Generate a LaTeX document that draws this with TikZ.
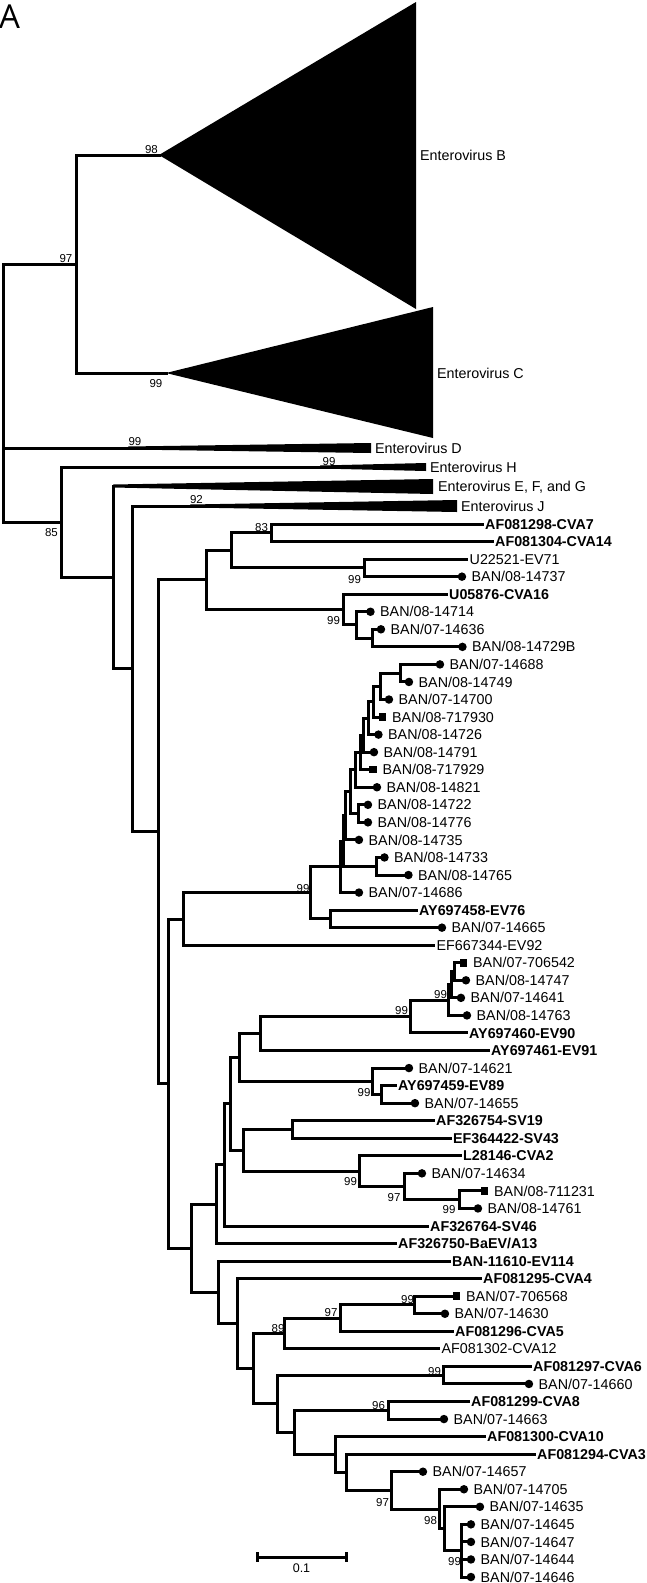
\documentclass[tikz,border=0pt]{standalone}
\usepackage{fontspec}
\setmainfont{Liberation Sans}
\newfontfamily\panelfont{Open Sans}
\tikzset{
  br/.style={line width=3pt, line join=miter, line cap=rect},
  lab/.style={font=\fontsize{14.3}{16}\selectfont, anchor=base west, inner sep=0pt, yshift=-5.1pt},
  blab/.style={font=\fontsize{14.3}{16}\selectfont\bfseries, anchor=base west, inner sep=0pt, yshift=-5.1pt},
  bs/.style={font=\fontsize{11.5}{12}\selectfont, inner sep=0pt},
  dotmark/.style={circle, fill=black, minimum size=8.5pt, inner sep=0pt, anchor=west},
  sqmark/.style={rectangle, fill=black, minimum size=7.5pt, inner sep=0pt, anchor=west},
}
\newcommand\Lc[4]{\coordinate (#1) at (#3,{524+(#2-1)*17.55});
  \node[dotmark] (#1m) at (#1) {};
  \node[lab] (#1l) at ([xshift=14pt]#1) {#4};}
\newcommand\Ls[4]{\coordinate (#1) at (#3,{524+(#2-1)*17.55});
  \node[sqmark] (#1m) at ([xshift=0.5pt]#1) {};
  \node[lab] (#1l) at ([xshift=14pt]#1) {#4};}
\newcommand\Lb[4]{\coordinate (#1) at (#3,{524+(#2-1)*17.55});
  \node[blab] (#1l) at ([xshift=3pt]#1) {#4};}
\newcommand\Lr[4]{\coordinate (#1) at (#3,{524+(#2-1)*17.55});
  \node[lab] (#1l) at ([xshift=3.5pt]#1) {#4};}
\begin{document}
\begin{tikzpicture}[x=1pt,y=-1pt]
\useasboundingbox (0,0) rectangle (646,1583);
\fill[white] (0,0) rectangle (646,1583);
\node[font=\panelfont\fontsize{33}{33}\selectfont, anchor=base west, inner sep=0pt] (panel) at (-1,28) {A};

% collapsed clades
\coordinate (tB) at (159,155);
\coordinate (tC) at (166,373);
\coordinate (tD) at (143,448);
\coordinate (tH) at (335,467);
\coordinate (tE) at (113,486);
\coordinate (tJ) at (203,506);
\fill (tB) -- (416,2) -- (416,309) -- cycle;
\fill (tC) -- (433,307) -- (433,438) -- cycle;
\fill (128,446.5) -- (371,443) -- (371,453) -- (128,449.5) -- cycle;
\fill (320,465.5) -- (426,463) -- (426,471) -- (320,468.5) -- cycle;
\fill (113,484.5) -- (433,479) -- (433,494) -- (113,487.5) -- cycle;
\fill (190,504.5) -- (457,500) -- (457,512) -- (190,507.5) -- cycle;
\node[lab] (labB) at (420,155) {Enterovirus B};
\node[lab] (labC) at (437,373) {Enterovirus C};
\node[lab] (labD) at (375,448) {Enterovirus D};
\node[lab] (labH) at (430,467) {Enterovirus H};
\node[lab] (labE) at (438,486) {Enterovirus E, F, and G};
\node[lab] (labJ) at (461,506) {Enterovirus J};

% leaves
\Lb{L1}{1}{482}{AF081298-CVA7}
\Lb{L2}{2}{492}{AF081304-CVA14}
\Lr{L3}{3}{466}{U22521-EV71}
\Lc{L4}{4}{457.5}{BAN/08-14737}
\Lb{L5}{5}{446}{U05876-CVA16}
\Lc{L6}{6}{366}{BAN/08-14714}
\Lc{L7}{7}{376.5}{BAN/07-14636}
\Lc{L8}{8}{458}{BAN/08-14729B}
\Lc{L9}{9}{435.5}{BAN/07-14688}
\Lc{L10}{10}{404.5}{BAN/08-14749}
\Lc{L11}{11}{384.5}{BAN/07-14700}
\Ls{L12}{12}{378}{BAN/08-717930}
\Lc{L13}{13}{374}{BAN/08-14726}
\Lc{L14}{14}{369.5}{BAN/08-14791}
\Ls{L15}{15}{368.5}{BAN/08-717929}
\Lc{L16}{16}{372.5}{BAN/08-14821}
\Lc{L17}{17}{363.5}{BAN/08-14722}
\Lc{L18}{18}{363.5}{BAN/08-14776}
\Lc{L19}{19}{354.5}{BAN/08-14735}
\Lc{L20}{20}{380}{BAN/08-14733}
\Lc{L21}{21}{404}{BAN/08-14765}
\Lc{L22}{22}{354.5}{BAN/07-14686}
\Lb{L23}{23}{416}{AY697458-EV76}
\Lc{L24}{24}{437.5}{BAN/07-14665}
\Lr{L25}{25}{433}{EF667344-EV92}
\Ls{L26}{26}{459}{BAN/07-706542}
\Lc{L27}{27}{461.5}{BAN/08-14747}
\Lc{L28}{28}{456.5}{BAN/07-14641}
\Lc{L29}{29}{462.5}{BAN/08-14763}
\Lb{L30}{30}{466}{AY697460-EV90}
\Lb{L31}{31}{488}{AY697461-EV91}
\Lc{L32}{32}{404.5}{BAN/07-14621}
\Lb{L33}{33}{395}{AY697459-EV89}
\Lc{L34}{34}{410.5}{BAN/07-14655}
\Lb{L35}{35}{433}{AF326754-SV19}
\Lb{L36}{36}{450}{EF364422-SV43}
\Lb{L37}{37}{460}{L28146-CVA2}
\Lc{L38}{38}{417.5}{BAN/07-14634}
\Ls{L39}{39}{480}{BAN/08-711231}
\Lc{L40}{40}{473.5}{BAN/08-14761}
\Lb{L41}{41}{427}{AF326764-SV46}
\Lb{L42}{42}{395}{AF326750-BaEV/A13}
\Lb{L43}{43}{449}{BAN-11610-EV114}
\Lb{L44}{44}{480}{AF081295-CVA4}
\Ls{L45}{45}{452}{BAN/07-706568}
\Lc{L46}{46}{440.5}{BAN/07-14630}
\Lb{L47}{47}{452}{AF081296-CVA5}
\Lr{L48}{48}{438}{AF081302-CVA12}
\Lb{L49}{49}{530}{AF081297-CVA6}
\Lc{L50}{50}{524.5}{BAN/07-14660}
\Lb{L51}{51}{468}{AF081299-CVA8}
\Lc{L52}{52}{439.5}{BAN/07-14663}
\Lb{L53}{53}{484}{AF081300-CVA10}
\Lb{L54}{54}{534}{AF081294-CVA3}
\Lc{L55}{55}{418.5}{BAN/07-14657}
\Lc{L56}{56}{459.5}{BAN/07-14705}
\Lc{L57}{57}{475.5}{BAN/07-14635}
\Lc{L58}{58}{466.5}{BAN/07-14645}
\Lc{L59}{59}{466.5}{BAN/07-14647}
\Lc{L60}{60}{466.5}{BAN/07-14644}
\Lc{L61}{61}{466.5}{BAN/07-14646}

% internal nodes
\coordinate (root) at (3,393.1);
\coordinate (nBC) at (76,264);
\coordinate (n61) at (61,522.2);
\coordinate (n113) at (113,577.45);
\coordinate (n132) at (132.5,668.9);
\coordinate (n158) at (158,831.8);
\coordinate (n206) at (206,579.94);
\coordinate (n231) at (231,550.33);
\coordinate (n271) at (271,532.78);
\coordinate (n364) at (364,567.88);
\coordinate (n343) at (343,609.56);
\coordinate (n356) at (356,624.91);
\coordinate (n372) at (372,638.08);
\coordinate (nB168) at (168,1083.66);
\coordinate (n183) at (183,919.01);
\coordinate (n310) at (310,892.83);
\coordinate (nA) at (340,866.78);
\coordinate (nL10) at (343,841.01);
\coordinate (nL9) at (345.5,815.8);
\coordinate (nL8) at (350,791.71);
\coordinate (nL7) at (355,769.84);
\coordinate (nL6) at (360,752.42);
\coordinate (nL5) at (363,735.15);
\coordinate (nL4) at (368,718.15);
\coordinate (nL3) at (373,701.69);
\coordinate (nL2) at (380,686.34);
\coordinate (nL1) at (400,673.18);
\coordinate (nM) at (358,813.58);
\coordinate (nN) at (376,866.23);
\coordinate (n330) at (330,918.88);
\coordinate (nBB) at (191,1248.3);
\coordinate (nAA) at (216,1204.24);
\coordinate (nZ) at (224,1164.92);
\coordinate (nY) at (230,1103.84);
\coordinate (nS) at (239,1057.36);
\coordinate (nR) at (260,1033.5);
\coordinate (nQ) at (410,1016.5);
\coordinate (nP3) at (448,1000.04);
\coordinate (nP2) at (451,984.69);
\coordinate (nP1) at (454,971.53);
\coordinate (nT) at (372,1081.21);
\coordinate (nU) at (381,1094.38);
\coordinate (nX) at (243,1150.32);
\coordinate (nV) at (292,1129.48);
\coordinate (nW3) at (359,1171.16);
\coordinate (nW2) at (404,1186.51);
\coordinate (nW1) at (459,1199.68);
\coordinate (nCC) at (218,1292.37);
\coordinate (nDD) at (237,1323.64);
\coordinate (nEE) at (253,1368.63);
\coordinate (nFF) at (284,1333.49);
\coordinate (nHH) at (340,1318.14);
\coordinate (nII) at (414,1304.98);
\coordinate (nGG) at (277,1403.76);
\coordinate (nJJ) at (443,1375.18);
\coordinate (nKK) at (294,1432.35);
\coordinate (nLL) at (388,1410.28);
\coordinate (nMM) at (335,1454.42);
\coordinate (nNN) at (346,1472.25);
\coordinate (nOO) at (391,1490.35);
\coordinate (nPP) at (439,1508.99);
\coordinate (nQQ) at (444,1528.74);
\coordinate (nRR) at (461,1550.68);

% branches
\draw[br] (root) |- (nBC) (root) |- (tD) (root) |- (n61);
\draw[br] (nBC) |- (tB) (nBC) |- (tC);
\draw[br] (n61) |- (tH) (n61) |- (n113);
\draw[br] (n113) |- (tE) (n113) |- (n132);
\draw[br] (n132) |- (tJ) (n132) |- (n158);
\draw[br] (n158) |- (n206) (n158) |- (nB168);
\draw[br] (n206) |- (n231) (n206) |- (n343);
\draw[br] (n231) |- (n271) (n231) |- (n364);
\draw[br] (n271) |- (L1) (n271) |- (L2);
\draw[br] (n364) |- (L3) (n364) |- (L4);
\draw[br] (n343) |- (L5) (n343) |- (n356);
\draw[br] (n356) |- (L6) (n356) |- (n372);
\draw[br] (n372) |- (L7) (n372) |- (L8);
\draw[br] (nB168) |- (n183) (nB168) |- (nBB);
\draw[br] (n183) |- (n310) (n183) |- (L25);
\draw[br] (n310) |- (nA) (n310) |- (n330);
\draw[br] (nA) |- (nL10) (nA) |- (L22);
\draw[br] (nL10) |- (nL9) (nL10) |- (nN);
\draw[br] (nL9) |- (nL8) (nL9) |- (L19);
\draw[br] (nL8) |- (nL7) (nL8) |- (nM);
\draw[br] (nL7) |- (nL6) (nL7) |- (L16);
\draw[br] (nL6) |- (nL5) (nL6) |- (L15);
\draw[br] (nL5) |- (nL4) (nL5) |- (L14);
\draw[br] (nL4) |- (nL3) (nL4) |- (L13);
\draw[br] (nL3) |- (nL2) (nL3) |- (L12);
\draw[br] (nL2) |- (nL1) (nL2) |- (L11);
\draw[br] (nL1) |- (L9) (nL1) |- (L10);
\draw[br] (nM) |- (L17) (nM) |- (L18);
\draw[br] (nN) |- (L20) (nN) |- (L21);
\draw[br] (n330) |- (L23) (n330) |- (L24);
\draw[br] (nBB) |- (nAA) (nBB) |- (nCC);
\draw[br] (nAA) |- (nZ) (nAA) |- (L42);
\draw[br] (nZ) |- (nY) (nZ) |- (L41);
\draw[br] (nY) |- (nS) (nY) |- (nX);
\draw[br] (nS) |- (nR) (nS) |- (nT);
\draw[br] (nR) |- (nQ) (nR) |- (L31);
\draw[br] (nQ) |- (nP3) (nQ) |- (L30);
\draw[br] (nP3) |- (nP2) (nP3) |- (L29);
\draw[br] (nP2) |- (nP1) (nP2) |- (L28);
\draw[br] (nP1) |- (L26) (nP1) |- (L27);
\draw[br] (nT) |- (L32) (nT) |- (nU);
\draw[br] (nU) |- (L33) (nU) |- (L34);
\draw[br] (nX) |- (nV) (nX) |- (nW3);
\draw[br] (nV) |- (L35) (nV) |- (L36);
\draw[br] (nW3) |- (L37) (nW3) |- (nW2);
\draw[br] (nW2) |- (L38) (nW2) |- (nW1);
\draw[br] (nW1) |- (L39) (nW1) |- (L40);
\draw[br] (nCC) |- (L43) (nCC) |- (nDD);
\draw[br] (nDD) |- (L44) (nDD) |- (nEE);
\draw[br] (nEE) |- (nFF) (nEE) |- (nGG);
\draw[br] (nFF) |- (nHH) (nFF) |- (L48);
\draw[br] (nHH) |- (nII) (nHH) |- (L47);
\draw[br] (nII) |- (L45) (nII) |- (L46);
\draw[br] (nGG) |- (nJJ) (nGG) |- (nKK);
\draw[br] (nJJ) |- (L49) (nJJ) |- (L50);
\draw[br] (nKK) |- (nLL) (nKK) |- (nMM);
\draw[br] (nLL) |- (L51) (nLL) |- (L52);
\draw[br] (nMM) |- (L53) (nMM) |- (nNN);
\draw[br] (nNN) |- (L54) (nNN) |- (nOO);
\draw[br] (nOO) |- (L55) (nOO) |- (nPP);
\draw[br] (nPP) |- (L56) (nPP) |- (nQQ);
\draw[br] (nQQ) |- (L57) (nQQ) |- (nRR);
\draw[br] (nRR) |- (L58) (nRR) |- (L59) (nRR) |- (L60) (nRR) |- (L61);

% bootstrap values
\node[bs] (b1) at (151.5,149.5) {98};
\node[bs] (b2) at (66,258.5) {97};
\node[bs] (b3) at (156,384) {99};
\node[bs] (b4) at (135,441.5) {99};
\node[bs] (b5) at (329,461.5) {99};
\node[bs] (b6) at (51.5,532.5) {85};
\node[bs] (b7) at (196.5,499.5) {92};
\node[bs] (b8) at (261.5,527.5) {83};
\node[bs] (b9) at (354.5,579.5) {99};
\node[bs] (b10) at (333.5,621) {99};
\node[bs] (b11) at (303,888.5) {99};
\node[bs] (b12) at (440.5,995) {99};
\node[bs] (b13) at (401.5,1011) {99};
\node[bs] (b14) at (364,1092.5) {99};
\node[bs] (b15) at (350.5,1181.5) {99};
\node[bs] (b16) at (394,1197.5) {97};
\node[bs] (b17) at (449,1209.5) {99};
\node[bs] (b18) at (407.5,1300) {99};
\node[bs] (b19) at (331,1313) {97};
\node[bs] (b20) at (278,1329) {89};
\node[bs] (b21) at (434.5,1371.5) {99};
\node[bs] (b22) at (378.5,1406) {96};
\node[bs] (b23) at (382.5,1502.5) {97};
\node[bs] (b24) at (430.5,1521) {98};
\node[bs] (b25) at (454.5,1561.5) {99};

% scale bar
\coordinate (sb1) at (257,1557);
\coordinate (sb2) at (346,1557);
\draw[line width=3pt] (sb1) -- (sb2);
\draw[line width=3pt] ([yshift=5pt]sb1) -- ([yshift=-5pt]sb1);
\draw[line width=3pt] ([yshift=5pt]sb2) -- ([yshift=-5pt]sb2);
\node[bs, font=\fontsize{12.5}{13}\selectfont] (sbl) at (301.5,1568.5) {0.1};
\end{tikzpicture}
\end{document}
